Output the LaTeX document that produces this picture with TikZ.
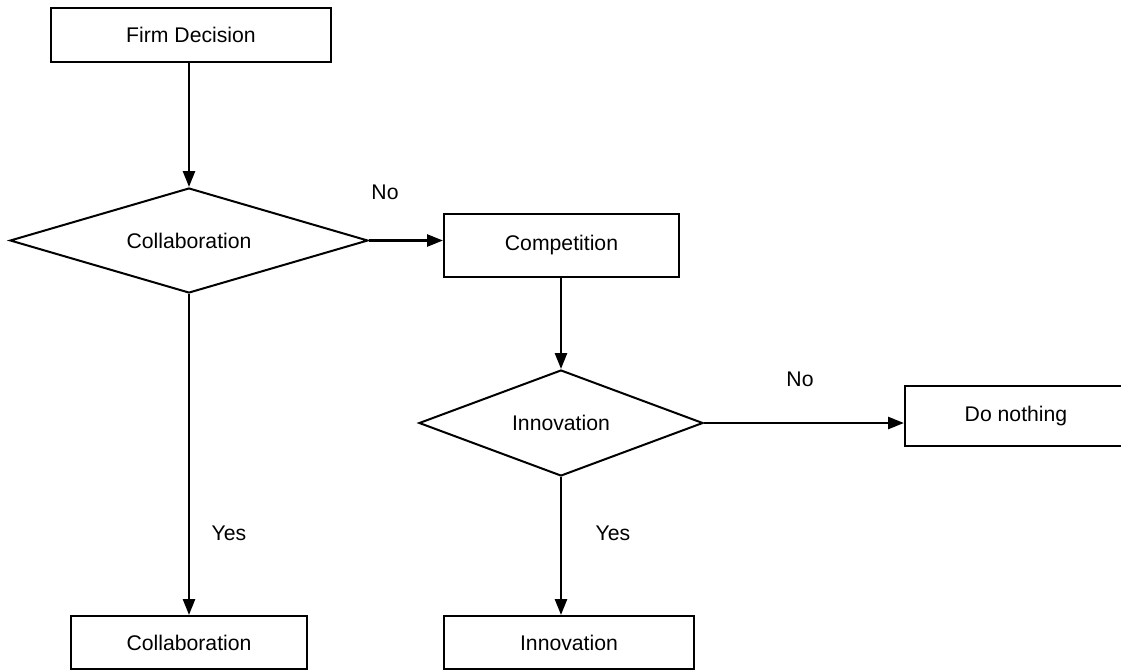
\documentclass[tikz,border=0pt]{standalone}
\usepackage{fontspec}
\setmainfont{Liberation Sans}
\usetikzlibrary{arrows.meta,positioning,shapes.geometric}

\begin{document}
\begin{tikzpicture}[
  x=0.5pt, y=-0.5pt,
  every node/.style={font=\fontsize{10.6}{12.7}\selectfont},
  box/.style={draw, line width=1pt, inner sep=1pt},
  decision/.style={draw, diamond, aspect=3.4, line width=1pt, inner sep=1pt},
  arr/.style={-{Triangle[length=8pt,width=6pt]}, line width=1.3pt}
]
  \useasboundingbox (0,0) rectangle (1121,670);

  \node[box, minimum width=140pt, minimum height=27pt] (firm) at (191,35) {Firm Decision};
  \node[decision, minimum width=179pt, minimum height=52.5pt] (collab) at (189,240.5) {Collaboration};
  \node[box, minimum width=117.5pt, minimum height=31.5pt] (comp) at (561.5,245.5) {Competition};
  \node[decision, minimum width=142pt, minimum height=53pt] (innov) at (561,423) {Innovation};
  \node[box, minimum width=111pt, minimum height=30pt] (nothing) at (1016,416) {Do nothing};
  \node[box, minimum width=118pt, minimum height=26.5pt] (collabbox) at (189,642.5) {Collaboration};
  \node[box, minimum width=125pt, minimum height=26.5pt] (innovbox) at (569,642.5) {Innovation};

  % branch labels
  \node (no1) at (385,192) {No};
  \node (no2) at (800,379) {No};
  \node (yes1) at (229,533) {Yes};
  \node (yes2) at (613,533) {Yes};

  \draw[arr] (firm.south -| collab.north) -- (collab.north);
  \draw[arr] (collab.east) -- (collab.east -| comp.west);
  \draw[arr] (comp.south -| innov.north) -- (innov.north);
  \draw[arr] (innov.east) -- (innov.east -| nothing.west);
  \draw[arr] (collab.south) -- (collabbox.north);
  \draw[arr] (innov.south) -- (innov.south |- innovbox.north);
\end{tikzpicture}
\end{document}
